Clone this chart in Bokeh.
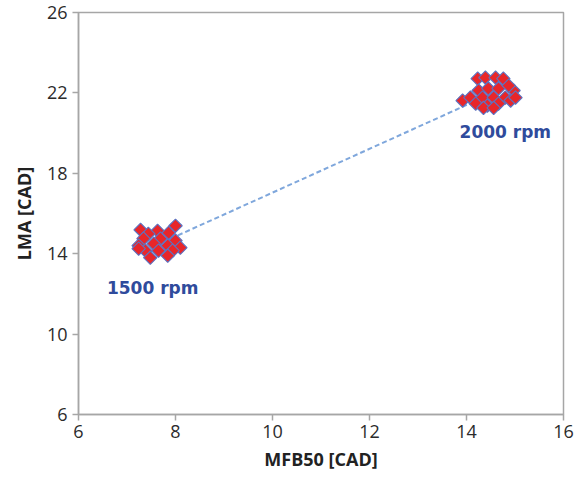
from bokeh.plotting import figure
from bokeh.models import ColumnDataSource, FixedTicker, Label
from bokeh.embed import file_html
from bokeh.resources import INLINE
import numpy as np

# 1500 rpm cluster
mfb50_1500 = [8.00, 7.28, 7.63, 7.44, 7.86, 7.34, 7.69, 8.00, 7.24, 7.55, 7.84, 8.10,
              7.38, 7.65, 7.94, 7.48, 7.84, 7.24]
lma_1500 = [15.39, 15.19, 15.14, 14.99, 15.04, 14.75, 14.75, 14.65, 14.40, 14.50, 14.40, 14.30,
            14.15, 14.15, 14.15, 13.80, 13.90, 14.25]
# 2000 rpm cluster
mfb50_2000 = [13.92, 14.23, 14.39, 14.60, 14.76, 14.97, 14.25, 14.45, 14.66, 14.87, 14.08,
              14.33, 14.56, 14.80, 14.19, 14.43, 14.66, 14.91, 14.35, 14.56, 15.01]
lma_2000 = [21.62, 22.71, 22.76, 22.76, 22.71, 22.12, 22.12, 22.22, 22.22, 22.36, 21.77,
            21.77, 21.77, 21.77, 21.47, 21.37, 21.47, 21.62, 21.25, 21.25, 21.77]

# trend line endpoints
trend_x = [7.9, 14.6]
trend_y = [14.75, 22.05]

x_ticks = [6, 8, 10, 12, 14, 16]
y_ticks = [6, 10, 14, 18, 22, 26]

labels = ["1500 rpm", "2000 rpm"]
label_x = [7.53, 14.8]
label_y = [12.3, 20.07]

p = figure(width=575, height=480, output_backend="svg", toolbar_location=None,
           x_range=(6, 16), y_range=(6, 26),
           min_border_left=78, min_border_right=12, min_border_top=12, min_border_bottom=66)
p.background_fill_color = "white"
p.border_fill_color = "white"
p.outline_line_color = "#a6a6a6"
p.outline_line_width = 1.5
p.xgrid.visible = False
p.ygrid.visible = False

for ax in (p.xaxis[0], p.yaxis[0]):
    ax.axis_line_color = "#a6a6a6"
    ax.axis_line_width = 1.5
    ax.major_tick_line_color = "#a6a6a6"
    ax.major_tick_line_width = 1.5
    ax.major_tick_out = 6
    ax.major_tick_in = 0
    ax.minor_tick_line_color = None
    ax.major_label_text_font = "Open Sans"
    ax.major_label_text_font_size = "18px"
    ax.major_label_text_color = "#2b2b2b"
    ax.axis_label_text_font = "Open Sans"
    ax.axis_label_text_font_style = "bold"
    ax.axis_label_text_font_size = "18px"
    ax.axis_label_text_color = "#222222"

p.xaxis.ticker = FixedTicker(ticks=x_ticks)
p.yaxis.ticker = FixedTicker(ticks=y_ticks)
p.xaxis.axis_label = "MFB50 [CAD]"
p.yaxis.axis_label = "LMA [CAD]"
p.xaxis.major_label_standoff = 4
p.yaxis.major_label_standoff = 5
p.xaxis.axis_label_standoff = 6
p.yaxis.axis_label_standoff = 8

p.line(trend_x, trend_y, line_color="#7fa7dc", line_width=2, line_dash="5 3")

src = ColumnDataSource(data=dict(x=mfb50_1500 + mfb50_2000, y=lma_1500 + lma_2000))
p.scatter("x", "y", source=src, marker="square", angle=np.pi / 4, size=9.5,
          fill_color="#e8262a", line_color="#5a74c4", line_width=1.1)

for t, lx, ly in zip(labels, label_x, label_y):
    p.add_layout(Label(x=lx, y=ly, text=t, text_align="center", text_baseline="middle",
                       text_font="DejaVu Sans", text_font_style="bold", text_font_size="17px",
                       text_color="#2f4b9c"))

open("out.html", "w").write(file_html(p, INLINE))
